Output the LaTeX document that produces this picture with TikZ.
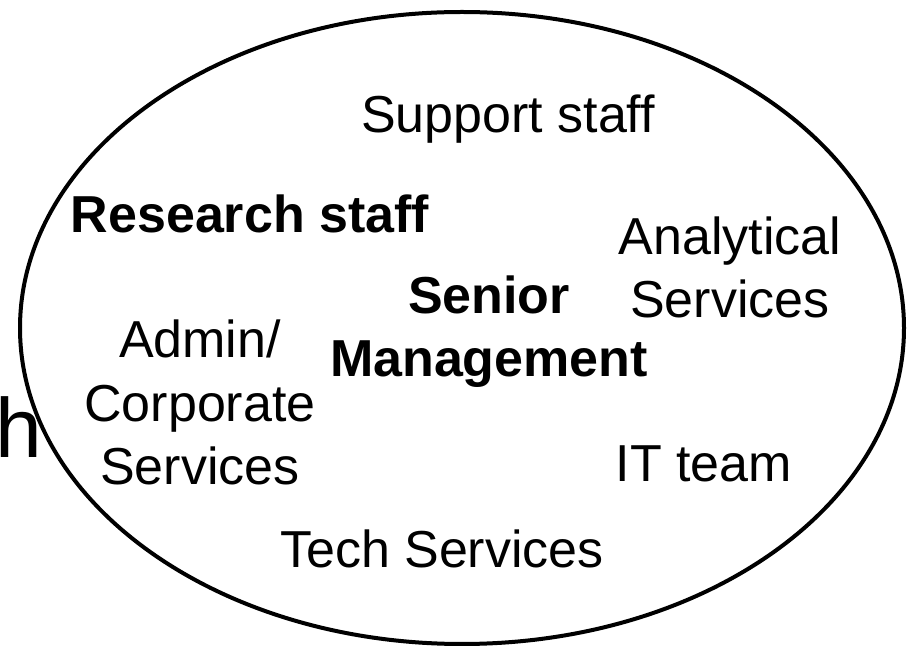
\documentclass[tikz,border=0pt]{standalone}
\usepackage{fontspec}
\setmainfont{Liberation Sans}
\usetikzlibrary{positioning}

\begin{document}
\begin{tikzpicture}[x=1pt, y=1pt, thick, group/.style={inner sep=0pt, align=center, anchor=base, font=\fontsize{52}{63.5}\selectfont}, lead/.style={group, font=\fontsize{52}{63.5}\selectfont\bfseries}]

            \clip (0,0) rectangle (908,648);
            \useasboundingbox (0,0) rectangle (908,648);

            \node[inner sep=0pt, anchor=base east, font=\fontsize{84}{90}\selectfont] (cut) at (43,190) {h};

            \draw[line width=4pt] (462,320) ellipse [x radius=442, y radius=316];

            \node[group] (support) at (508,515) {Support staff};
            \node[lead] (research) at (250,415) {Research staff};
            \node[lead] (senior) at (489,271) {Senior\\Management};
            \node[group] (analytical) at (730,330) {Analytical\\Services};
            \node[group] (admin) at (200,163) {Admin/\\Corporate\\Services};
            \node[group] (it) at (704,166) {IT team};
            \node[group] (tech) at (442,80) {Tech Services};
        \end{tikzpicture}
\end{document}
